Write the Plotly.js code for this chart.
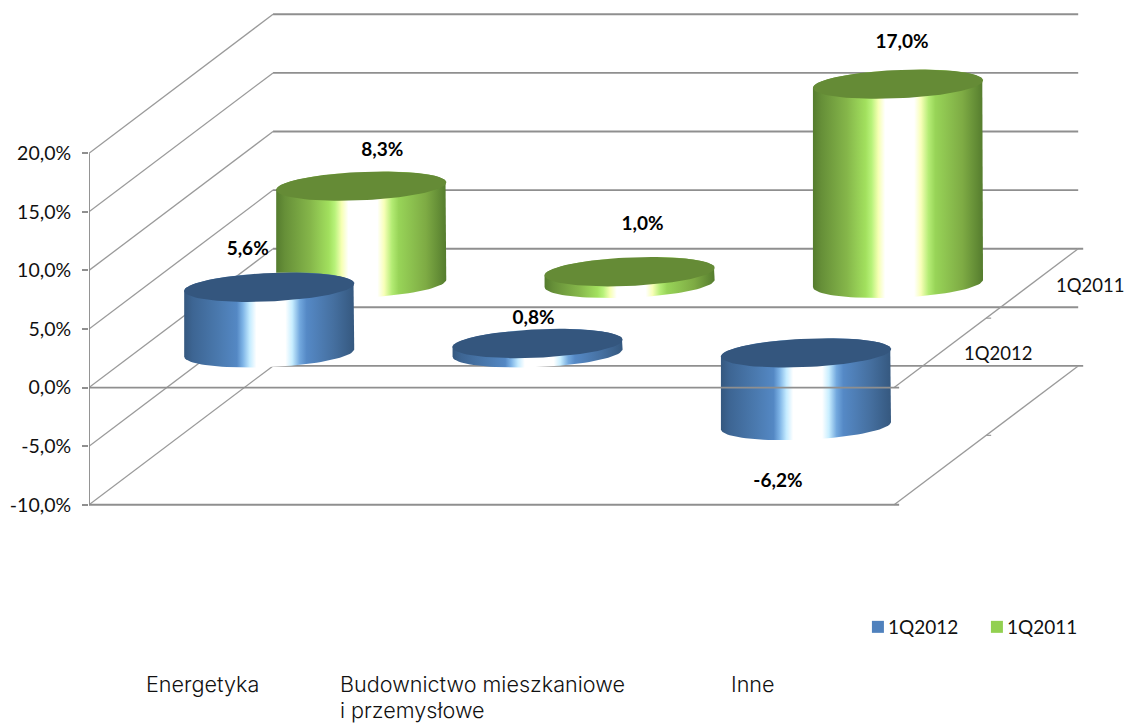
<!DOCTYPE html>
<html><head><meta charset="utf-8">
<script src="https://cdn.plot.ly/plotly-3.0.1.min.js"></script>
<style>html,body{margin:0;padding:0;background:#fff}#c{width:1126px;height:724px}</style>
</head><body><div id="c"></div>
<script>
// ---- data ----
const categories = ['Energetyka', 'Budownictwo mieszkaniowe<br>i przemysłowe', 'Inne'];
const values1Q2012 = [5.6, 0.8, -6.2];
const values1Q2011 = [8.3, 1.0, 17.0];
const seriesNames = ['1Q2012', '1Q2011'];
const valueTicks = [-10, -5, 0, 5, 10, 15, 20];
const tickLabels = ['-10,0%', '-5,0%', '0,0%', '5,0%', '10,0%', '15,0%', '20,0%'];

// ---- scales: oblique projection in the axes' own units ----
const W = 1126, H = 724, LEFT = 89.3;
const pxPerCat = 268.3, pxPerPct = 11.72, zeroPx = 387.6, cat0Px = LEFT + pxPerCat / 2;
const depthDX = 184 / pxPerCat, depthDY = 138.9 / pxPerPct;   // full depth in axis units
const RX = 85 / pxPerCat;                                     // cylinder radii
const ELL_B = 14.2, ELL_S = 3.7;                              // px, vertical radius and tilt
const xr = [(LEFT - cat0Px) / pxPerCat, (W - cat0Px) / pxPerCat];
const yr = [(zeroPx - H) / pxPerPct, zeroPx / pxPerPct];
const pxx = dp => dp / pxPerCat, pxy = dp => -dp / pxPerPct;
const cat = (c, depth) => c + depth * depthDX;
const val = (v, depth) => v + depth * depthDY;

const GRID = '#8f8f8f';
const TEXT = '#111111';
const traces = [];

function segs(list, width, color) {
  const x = [], y = [];
  list.forEach(s => { x.push(s[0], s[2], null); y.push(s[1], s[3], null); });
  return {type: 'scatter', mode: 'lines', x, y, showlegend: false, hoverinfo: 'skip',
          line: {color: color || GRID, width}};
}
const XL = -0.5, XR = 2.5, TICK = pxx(5);

// walls and side lines
traces.push(segs(valueTicks.map(v => [XL, v, cat(XL, 1), val(v, 1)]), 1.3, '#9a9a9a'));
traces.push(segs(valueTicks.map(v => [cat(XL, 1), val(v, 1), cat(XR, 1) + ((v === 0 || v === -10) ? TICK : 0), val(v, 1)]), 1.9));
[0, -10].forEach(v => traces.push(segs([[XR, v, cat(XR, 1), val(v, 1)]], 1.3, '#9a9a9a')));
// depth axis ticks
traces.push(segs([0, -10].map(v => [cat(XR, 0.5), val(v, 0.5) , cat(XR, 0.5) + TICK, val(v, 0.5)]), 1.2, '#9a9a9a'));

// cylinders
const ell = (cx, cy, t) => [cx + RX * Math.cos(t), cy + pxy(ELL_B * Math.sin(t) - ELL_S * Math.cos(t))];
const blueScale = [[0,'#35587f'],[0.05,'#3d6593'],[0.2,'#4a79ae'],[0.31,'#5488c4'],[0.345,'#7db3e6'],[0.385,'#c4ebff'],[0.425,'#ffffff'],[0.595,'#ffffff'],[0.635,'#c8eeff'],[0.68,'#72a8de'],[0.72,'#5589c6'],[0.88,'#456f9f'],[1,'#35587f']];
const greenScale = [[0,'#557c2e'],[0.05,'#668f38'],[0.2,'#85b64a'],[0.31,'#a2e05e'],[0.345,'#b8f27a'],[0.385,'#f6ffb4'],[0.425,'#ffffff'],[0.595,'#ffffff'],[0.635,'#f8ffb8'],[0.68,'#b4ec74'],[0.72,'#98d458'],[0.88,'#7eab44'],[1,'#557c2e']];

function addCylinders(values, depth, scale, topColor, name) {
  values.forEach((v, c) => {
    const cx = cat(c, depth), lo = val(Math.min(0, v), depth), hi = val(Math.max(0, v), depth);
    const bx = [], by = [], tx = [], ty = [];
    for (let i = 0; i <= 48; i++) { const p = ell(cx, lo, Math.PI * (1 - i / 48)); bx.push(p[0]); by.push(p[1]); }
    for (let i = 0; i <= 48; i++) { const p = ell(cx, hi, -Math.PI * i / 48); bx.push(p[0]); by.push(p[1]); }
    for (let i = 0; i <= 96; i++) { const p = ell(cx, hi, 2 * Math.PI * i / 96); tx.push(p[0]); ty.push(p[1]); }
    traces.push({type: 'scatter', mode: 'lines', x: bx, y: by, fill: 'toself', name, showlegend: false, hoverinfo: 'skip',
      line: {width: 0, color: 'rgba(0,0,0,0)'},
      fillgradient: {type: 'horizontal', colorscale: scale, start: cx - RX, stop: cx + RX}});
    traces.push({type: 'scatter', mode: 'lines', x: tx, y: ty, fill: 'toself', fillcolor: topColor, name, showlegend: false, hoverinfo: 'skip',
      line: {width: 0, color: topColor}});
  });
}
addCylinders(values1Q2011, 0.75, greenScale, '#658b36', seriesNames[1]);
addCylinders(values1Q2012, 0.25, blueScale, '#34567e', seriesNames[0]);

// front plane lines lie over the cylinders
traces.push(segs([0, -10].map(v => [XL, v, XR + TICK, v]), 1.9));
traces.push(segs([[XL, -10, XL, 20]], 1.9));

// value labels
const labelNudge2012 = [[-21.5, -37], [-4, -24.5], [-28, 57]];
const labelNudge2011 = [[21, -35], [13, -46], [4, -41]];
const fmt = v => v.toFixed(1).replace('.', ',') + '%';
function addLabels(values, depth, nudge) {
  traces.push({type: 'scatter', mode: 'text', showlegend: false, hoverinfo: 'skip',
    x: values.map((v, c) => cat(c, depth) + pxx(nudge[c][0])),
    y: values.map((v, c) => val(v, depth) + pxy(nudge[c][1])),
    text: values.map(fmt), textposition: 'middle center',
    textfont: {family: 'Lato', size: 19, color: '#000', weight: 700}});
}
addLabels(values1Q2012, 0.25, labelNudge2012);
addLabels(values1Q2011, 0.75, labelNudge2011);

// legend entries
const legendColors = ['#4f81bd', '#92d050'];
seriesNames.forEach((n, i) => traces.push({type: 'scatter', mode: 'markers', x: [null], y: [null], name: n,
  marker: {symbol: 'square', size: 12, color: legendColors[i]}}));

const toX = p => (p - cat0Px) / pxPerCat, toY = p => (zeroPx - p) / pxPerPct;
const catPos = [145, 339, 730];
const catLineY = [684, 710];
const annotations = [];
categories.forEach((t, i) => t.split('<br>').forEach((line, j) => annotations.push({
  text: line, x: toX(catPos[i]), y: toY(catLineY[j]), xref: 'x', yref: 'y', xanchor: 'left', yanchor: 'middle', align: 'left',
  showarrow: false, borderpad: 0, font: {family: 'Inter', size: 21.6, weight: 300, color: TEXT}})));
const seriesLabelPos = [[998, 353], [1090, 285]];
seriesNames.forEach((n, i) => annotations.push({text: n, x: toX(seriesLabelPos[i][0]), y: toY(seriesLabelPos[i][1]),
  xref: 'x', yref: 'y', showarrow: false, font: {family: 'Lato', size: 18.5, color: TEXT}}));

Plotly.newPlot('c', traces, {
  width: W, height: H, margin: {l: LEFT, r: 0, t: 0, b: 0, pad: 0},
  paper_bgcolor: '#fff', plot_bgcolor: '#fff', hovermode: false,
  font: {family: 'Lato', size: 19, color: TEXT},
  xaxis: {range: xr, visible: false, fixedrange: true},
  yaxis: {range: yr, fixedrange: true, showgrid: false, zeroline: false, showline: false,
    tickmode: 'array', tickvals: valueTicks, ticktext: tickLabels, ticks: 'outside', ticklen: 6, tickwidth: 1.9, tickcolor: GRID,
    ticklabelstandoff: 7, tickfont: {family: 'Lato', size: 19.5, color: TEXT}},
  legend: {orientation: 'h', x: (848 - LEFT) / (W - LEFT), y: 1 - 627 / H, xanchor: 'left', yanchor: 'middle',
    font: {family: 'Lato', size: 19, color: TEXT}, bgcolor: 'rgba(0,0,0,0)', itemwidth: 30, entrywidth: 74, entrywidthmode: 'pixels'},
  annotations
}, {displayModeBar: false, staticPlot: true}).then(() => {
  // bring each swatch closer to its legend text
  document.querySelectorAll('.legend .legendpoints').forEach(g => g.setAttribute('transform', 'translate(10,0)'));
});
</script></body></html>
